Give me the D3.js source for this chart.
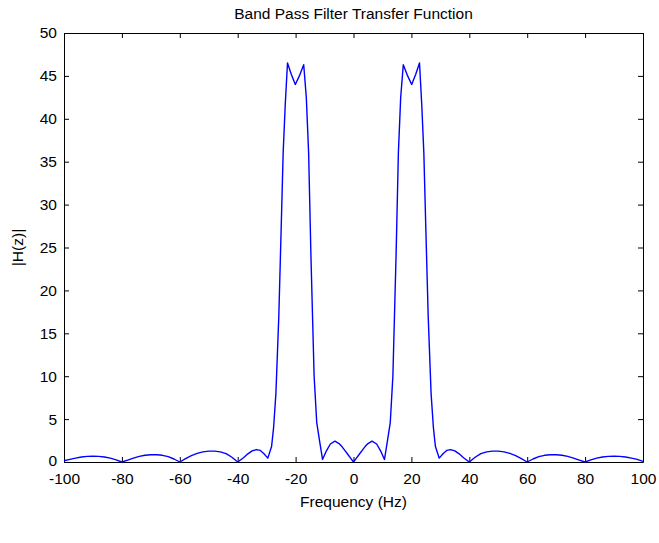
<!DOCTYPE html>
<html>
<head>
<meta charset="utf-8">
<script src="https://cdn.jsdelivr.net/npm/d3@7"></script>
<style>
  html, body { margin: 0; padding: 0; background: #fff; }
  svg { display: block; }
  text { font-family: "Liberation Sans", Arial, sans-serif; }
</style>
</head>
<body>
<div id="chart"></div>
<script>
// ---- Data ----
const freqHz = [
  -100, -98, -96, -94, -92, -90, -88, -86, -84, -82, -80,
  -78, -76, -74, -72, -70, -68, -66, -64, -62, -60,
  -58, -56, -54, -52, -50, -48, -46, -44, -42, -40,
  -38, -36.5, -35, -33.5, -32.2, -31, -29.6, -28.3, -27.6, -26.8, -25.8, -25.0, -24.3, -23.6, -22.8,
  -21.5, -20.1, -18.7, -17.2, -16.3, -15.5, -14.7, -13.6, -12.7, -11.6, -10.7, -9.5, -8, -6.4,
  -5, -4, -3, -2, -1, 0,
  1, 2, 3, 4, 5, 6.4, 8, 9.5, 10.7, 11.6, 12.7, 13.6, 14.7, 15.5, 16.3, 17.2,
  18.7, 20.1, 21.5, 22.8, 23.6, 24.3, 25.0, 25.8, 26.8, 27.6, 28.3, 29.6, 31, 32.2, 33.5,
  35, 36.5, 38, 40,
  42, 44, 46, 48, 50, 52, 54, 56, 58, 60,
  62, 64, 66, 68, 70, 72, 74, 76, 78, 80,
  82, 84, 86, 88, 90, 92, 94, 96, 98, 100
];
const magnitude = [
  0.15, 0.3, 0.45, 0.58, 0.65, 0.67, 0.65, 0.58, 0.45, 0.25, 0.0,
  0.22, 0.45, 0.65, 0.78, 0.85, 0.85, 0.78, 0.62, 0.35, 0.0,
  0.4, 0.75, 1.0, 1.18, 1.27, 1.27, 1.18, 0.98, 0.55, 0.0,
  0.5, 0.95, 1.3, 1.45, 1.35, 1.0, 0.45, 1.8, 4.0, 8.0, 17, 27, 36, 41.5, 46.5,
  45.2, 44.0, 45.0, 46.3, 42.5, 36, 24, 10, 4.6, 2.2, 0.3, 1.2, 2.1, 2.43,
  2.15, 1.8, 1.35, 0.9, 0.45, 0.0,
  0.45, 0.9, 1.35, 1.8, 2.15, 2.43, 2.1, 1.2, 0.3, 2.2, 4.6, 10, 24, 36, 42.5, 46.3,
  45.0, 44.0, 45.2, 46.5, 41.5, 36, 27, 17, 8.0, 4.0, 1.8, 0.45, 1.0, 1.35, 1.45,
  1.3, 0.95, 0.5, 0.0,
  0.55, 0.98, 1.18, 1.27, 1.27, 1.18, 1.0, 0.75, 0.4, 0.0,
  0.35, 0.62, 0.78, 0.85, 0.85, 0.78, 0.65, 0.45, 0.22, 0.0,
  0.25, 0.45, 0.58, 0.65, 0.67, 0.65, 0.58, 0.45, 0.3, 0.08
];
const xTicks = [-100, -80, -60, -40, -20, 0, 20, 40, 60, 80, 100];
const yTicks = [0, 5, 10, 15, 20, 25, 30, 35, 40, 45, 50];
const titleText = "Band Pass Filter Transfer Function";
const xLabelText = "Frequency (Hz)";
const yLabelText = "|H(z)|";

// ---- Layout ----
const W = 659, H = 543;
const margin = { top: 33, right: 16, bottom: 81, left: 64 };
const iw = W - margin.left - margin.right;
const ih = H - margin.top - margin.bottom;

const svg = d3.select("#chart").append("svg")
  .attr("width", W).attr("height", H);

const g = svg.append("g").attr("transform", `translate(${margin.left},${margin.top})`);

const x = d3.scaleLinear().domain([-100, 100]).range([0, iw]);
const y = d3.scaleLinear().domain([0, 50]).range([ih, 0]);

const fontSize = 15.5;
const font = "'Liberation Sans', Arial, sans-serif";

// axes (ticks inward, MATLAB style)
const axB = g.append("g").attr("transform", `translate(0,${ih})`)
  .call(d3.axisBottom(x).tickValues(xTicks).tickSizeInner(-5).tickSizeOuter(0).tickPadding(11).tickFormat(d3.format("d")));
const axT = g.append("g")
  .call(d3.axisTop(x).tickValues(xTicks).tickSizeInner(-5).tickSizeOuter(0).tickFormat(""));
const axL = g.append("g")
  .call(d3.axisLeft(y).tickValues(yTicks).tickSizeInner(-5).tickSizeOuter(0).tickPadding(7).tickFormat(d3.format("d")));
const axR = g.append("g").attr("transform", `translate(${iw},0)`)
  .call(d3.axisRight(y).tickValues(yTicks).tickSizeInner(-5).tickSizeOuter(0).tickFormat(""));

[axB, axT, axL, axR].forEach(a => {
  a.selectAll(".domain").attr("stroke", "#000").attr("stroke-width", 1);
  a.selectAll(".tick line").attr("stroke", "#000");
  a.selectAll("text").attr("font-size", fontSize).attr("fill", "#000")
    .attr("font-family", font);
});
axB.selectAll(".tick text").text(d => d < 0 ? "-" + Math.abs(d) : d);
// nudge the bottom-left "0" label up a touch so it clears "-100"
axL.selectAll(".tick text").filter(d => d === 0).attr("dy", "0.2em");

// data line
const pts = freqHz.map((f, i) => [f, magnitude[i]]);
const line = d3.line().x(d => x(d[0])).y(d => y(d[1]));
g.append("path").datum(pts)
  .attr("d", line)
  .attr("fill", "none")
  .attr("stroke", "#0000ff")
  .attr("stroke-width", 1.4)
  .attr("stroke-linejoin", "round");

// title & labels
svg.append("text")
  .attr("x", margin.left + iw / 2).attr("y", 19)
  .attr("text-anchor", "middle").attr("font-size", fontSize)
  .text(titleText);

svg.append("text")
  .attr("x", margin.left + iw / 2).attr("y", 507)
  .attr("text-anchor", "middle").attr("font-size", fontSize)
  .text(xLabelText);

svg.append("text")
  .attr("transform", `translate(23,${margin.top + ih / 2}) rotate(-90)`)
  .attr("text-anchor", "middle").attr("font-size", fontSize)
  .text(yLabelText);
</script>
</body>
</html>
